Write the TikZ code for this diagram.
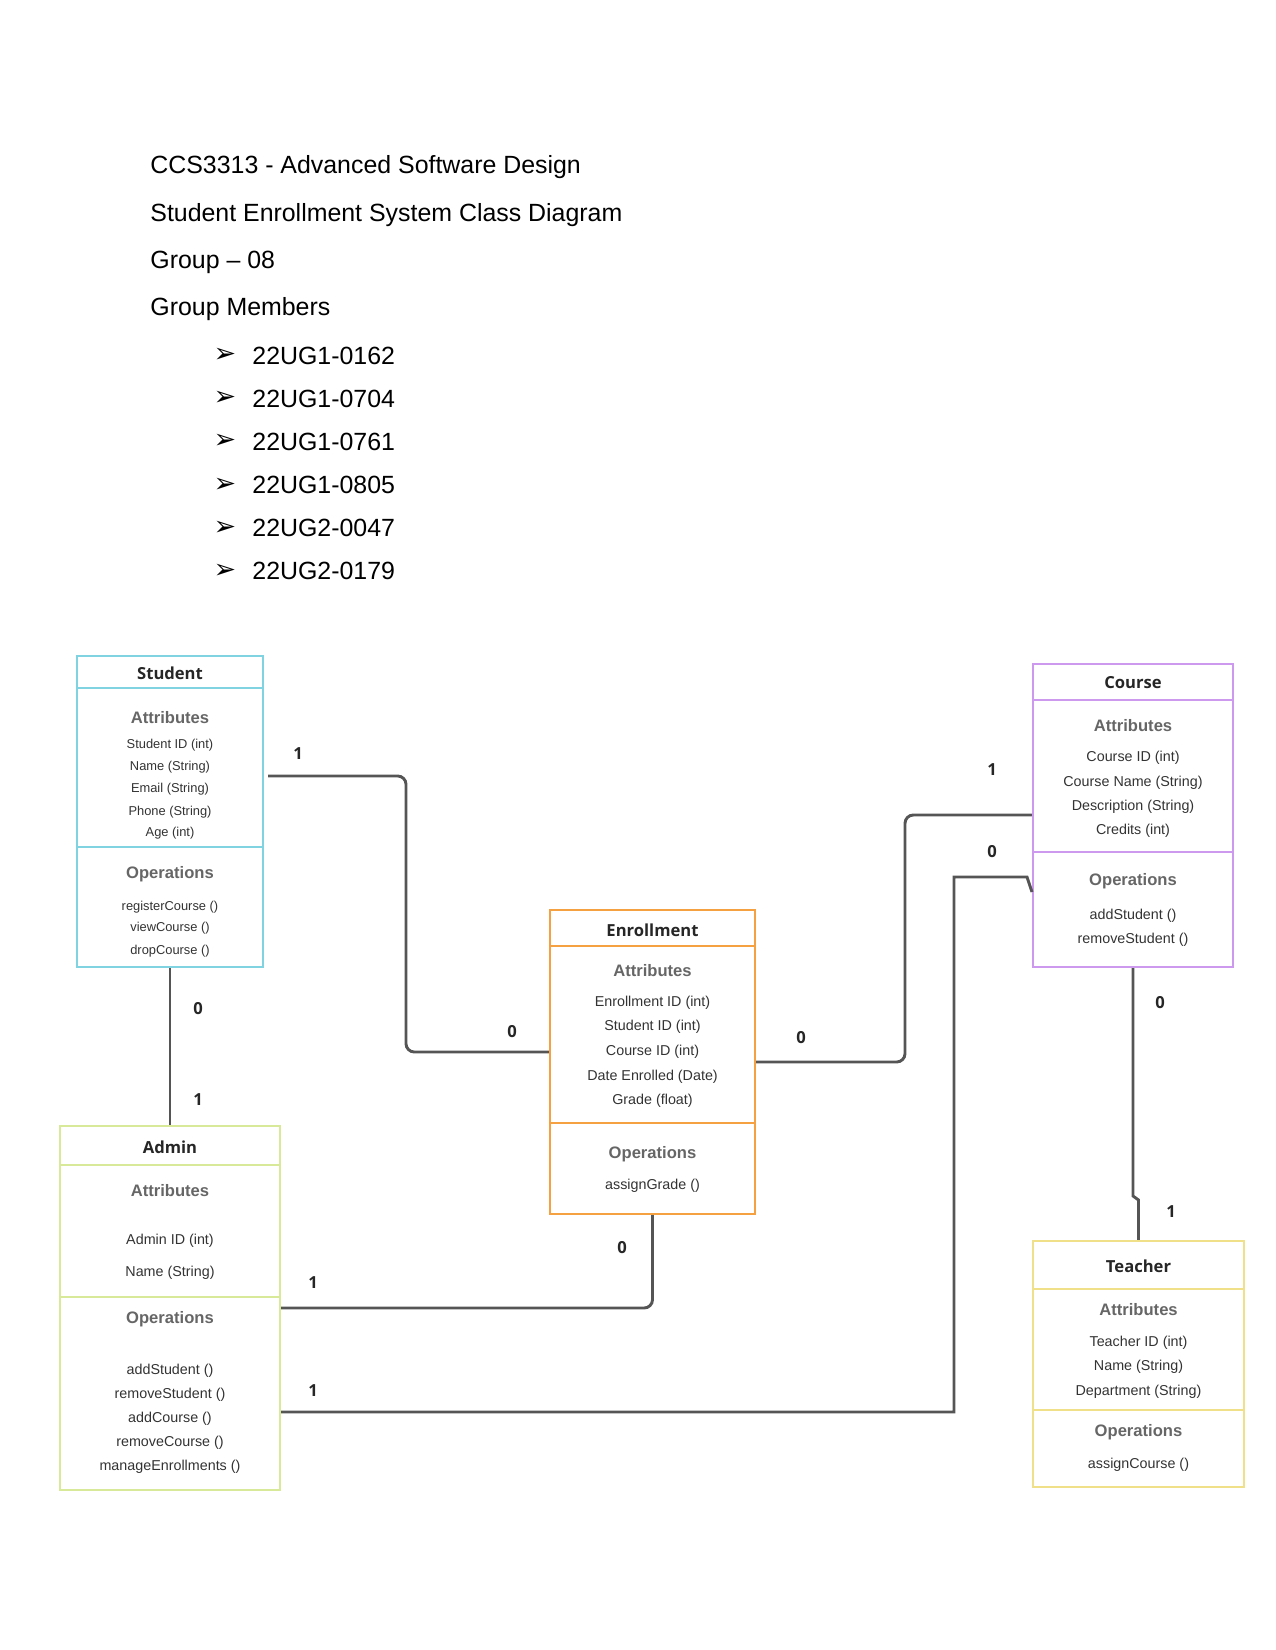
\documentclass[tikz,border=0pt]{standalone}
\usepackage{fontspec}
\setmainfont{Liberation Sans}
\newfontfamily\osb{Open Sans}
\newfontfamily\dvs{DejaVu Sans}
\usetikzlibrary{fit}
\definecolor{stucol}{HTML}{80D4E2}
\definecolor{coucol}{HTML}{CC99EE}
\definecolor{enrcol}{HTML}{F5A142}
\definecolor{admcol}{HTML}{D9E99A}
\definecolor{teacol}{HTML}{F0E08A}
\definecolor{linecol}{HTML}{555555}
\tikzset{
  cls/.style={draw=#1, line width=1pt, inner sep=0pt},
  ttl/.style={font=\osb\bfseries\fontsize{8}{9}\selectfont, text=black!85, inner sep=0pt},
  sec/.style={font=\bfseries\fontsize{8}{9}\selectfont, text=black!60, inner sep=0pt},
  itm/.style={font=\fontsize{6.9}{8}\selectfont, text=black!80, inner sep=0pt},
  sitm/.style={font=\fontsize{6.2}{7}\selectfont, text=black!80, inner sep=0pt},
  conn/.style={draw=linecol, line width=1.4pt},
  mult/.style={font=\osb\bfseries\fontsize{8}{9}\selectfont, text=black!85, inner sep=0pt},
  hdr/.style={font=\fontsize{12}{14}\selectfont, anchor=base west, inner sep=0pt},
  bul/.style={font=\dvs\fontsize{13}{15}\selectfont, inner sep=0pt},
}
\begin{document}
\begin{tikzpicture}[x=0.0066667in, y=-0.0066667in]
\useasboundingbox[fill=white] (0,0) rectangle (1275,1650);

% ---------- header ----------
\node[hdr] (h1) at (150,174) {CCS3313 - Advanced Software Design};
\node[hdr] (h2) at (150,221.5) {Student Enrollment System Class Diagram};
\node[hdr] (h3) at (150,269) {Group -- 08};
\node[hdr] (h4) at (150,316) {Group Members};
\foreach \yy/\tx [count=\i] in {355.6/22UG1-0162, 398.7/22UG1-0704, 441.8/22UG1-0761, 485/22UG1-0805, 528/22UG2-0047, 571/22UG2-0179}{
  \node[bul] (b\i) at (225,\yy) {➢};
  \node[hdr, anchor=west] (m\i) at (252,\yy) {\tx};
}

% ---------- Student ----------
\node[cls=stucol, fit={(77,656) (263,967)}] (student) {};
\draw[stucol, line width=1pt] (student.west |- 0,688) -- (student.east |- 0,688);
\draw[stucol, line width=1pt] (student.west |- 0,847) -- (student.east |- 0,847);
\node[ttl] (stuT) at (170,673) {Student};
\node[sec] (stuA) at (170,718) {Attributes};
\node[sitm] (stu1) at (170,745) {Student ID (int)};
\node[sitm] (stu2) at (170,767) {Name (String)};
\node[sitm] (stu3) at (170,789) {Email (String)};
\node[sitm] (stu4) at (170,812) {Phone (String)};
\node[sitm] (stu5) at (170,833) {Age (int)};
\node[sec] (stuO) at (170,874) {Operations};
\node[sitm] (stu6) at (170,907) {registerCourse ()};
\node[sitm] (stu7) at (170,928) {viewCourse ()};
\node[sitm] (stu8) at (170,951) {dropCourse ()};

% ---------- Course ----------
\node[cls=coucol, fit={(1033,664) (1233,967)}] (course) {};
\draw[coucol, line width=1pt] (course.west |- 0,700) -- (course.east |- 0,700);
\draw[coucol, line width=1pt] (course.west |- 0,852) -- (course.east |- 0,852);
\node[ttl] (couT) at (1133,683) {Course};
\node[sec] (couA) at (1133,726) {Attributes};
\node[itm] (cou1) at (1133,758) {Course ID (int)};
\node[itm] (cou2) at (1133,783) {Course Name (String)};
\node[itm] (cou3) at (1133,807) {Description (String)};
\node[itm] (cou4) at (1133,831) {Credits (int)};
\node[sec] (couO) at (1133,881) {Operations};
\node[itm] (cou5) at (1133,916) {addStudent ()};
\node[itm] (cou6) at (1133,940) {removeStudent ()};

% ---------- Enrollment ----------
\node[cls=enrcol, fit={(550,910) (755,1214)}] (enroll) {};
\draw[enrcol, line width=1pt] (enroll.west |- 0,946) -- (enroll.east |- 0,946);
\draw[enrcol, line width=1pt] (enroll.west |- 0,1123) -- (enroll.east |- 0,1123);
\node[ttl] (enrT) at (652.5,930) {Enrollment};
\node[sec] (enrA) at (652.5,971) {Attributes};
\node[itm] (enr1) at (652.5,1003) {Enrollment ID (int)};
\node[itm] (enr2) at (652.5,1027) {Student ID (int)};
\node[itm] (enr3) at (652.5,1052) {Course ID (int)};
\node[itm] (enr4) at (652.5,1077) {Date Enrolled (Date)};
\node[itm] (enr5) at (652.5,1101) {Grade (float)};
\node[sec] (enrO) at (652.5,1154) {Operations};
\node[itm] (enr6) at (652.5,1186) {assignGrade ()};

% ---------- Admin ----------
\node[cls=admcol, fit={(60,1126) (280,1490)}] (admin) {};
\draw[admcol, line width=1pt] (admin.west |- 0,1165) -- (admin.east |- 0,1165);
\draw[admcol, line width=1pt] (admin.west |- 0,1297) -- (admin.east |- 0,1297);
\node[ttl] (admT) at (170,1147) {Admin};
\node[sec] (admA) at (170,1191) {Attributes};
\node[itm] (adm1) at (170,1241) {Admin ID (int)};
\node[itm] (adm2) at (170,1273) {Name (String)};
\node[sec] (admO) at (170,1319) {Operations};
\node[itm] (adm3) at (170,1371) {addStudent ()};
\node[itm] (adm4) at (170,1395) {removeStudent ()};
\node[itm] (adm5) at (170,1419) {addCourse ()};
\node[itm] (adm6) at (170,1443) {removeCourse ()};
\node[itm] (adm7) at (170,1467) {manageEnrollments ()};

% ---------- Teacher ----------
\node[cls=teacol, fit={(1033,1241) (1244,1487)}] (teacher) {};
\draw[teacol, line width=1pt] (teacher.west |- 0,1289) -- (teacher.east |- 0,1289);
\draw[teacol, line width=1pt] (teacher.west |- 0,1410) -- (teacher.east |- 0,1410);
\node[ttl] (teaT) at (1138.5,1266) {Teacher};
\node[sec] (teaA) at (1138.5,1310) {Attributes};
\node[itm] (tea1) at (1138.5,1343) {Teacher ID (int)};
\node[itm] (tea2) at (1138.5,1367) {Name (String)};
\node[itm] (tea3) at (1138.5,1392) {Department (String)};
\node[sec] (teaO) at (1138.5,1432) {Operations};
\node[itm] (tea4) at (1138.5,1465) {assignCourse ()};

% ---------- connectors ----------
\draw[conn, rounded corners=4pt] ([xshift=2pt]student.east |- 0,776) -- (406,776) -- (406,1052) -- (enroll.west |- 0,1052);
\draw[conn, rounded corners=4pt] (enroll.east |- 0,1062) -- (905,1062) -- (905,815) -- (course.west |- 0,815);
\draw[conn] (admin.east |- 0,1412) -- (954,1412) -- (954,877) -- (1027,877) -- (course.west |- 0,892);
\draw[conn, rounded corners=4pt] (admin.east |- 0,1308) -| (enroll.south);
\draw[conn] (student.south) -- (admin.north);
\draw[conn] (course.south) -- (1133,1196) -- (1138.5,1200) -- (teacher.north);

% ---------- multiplicities ----------
\node[mult] (l1) at (298,754) {1};
\node[mult] (l2) at (512,1032) {0};
\node[mult] (l3) at (801,1038) {0};
\node[mult] (l4) at (992,770) {1};
\node[mult] (l5) at (313,1391) {1};
\node[mult] (l6) at (992,852) {0};
\node[mult] (l7) at (313,1283) {1};
\node[mult] (l8) at (622,1248) {0};
\node[mult] (l9) at (198,1009) {0};
\node[mult] (l10) at (198,1100) {1};
\node[mult] (l11) at (1160,1003) {0};
\node[mult] (l12) at (1171,1212) {1};
\end{tikzpicture}
\end{document}
